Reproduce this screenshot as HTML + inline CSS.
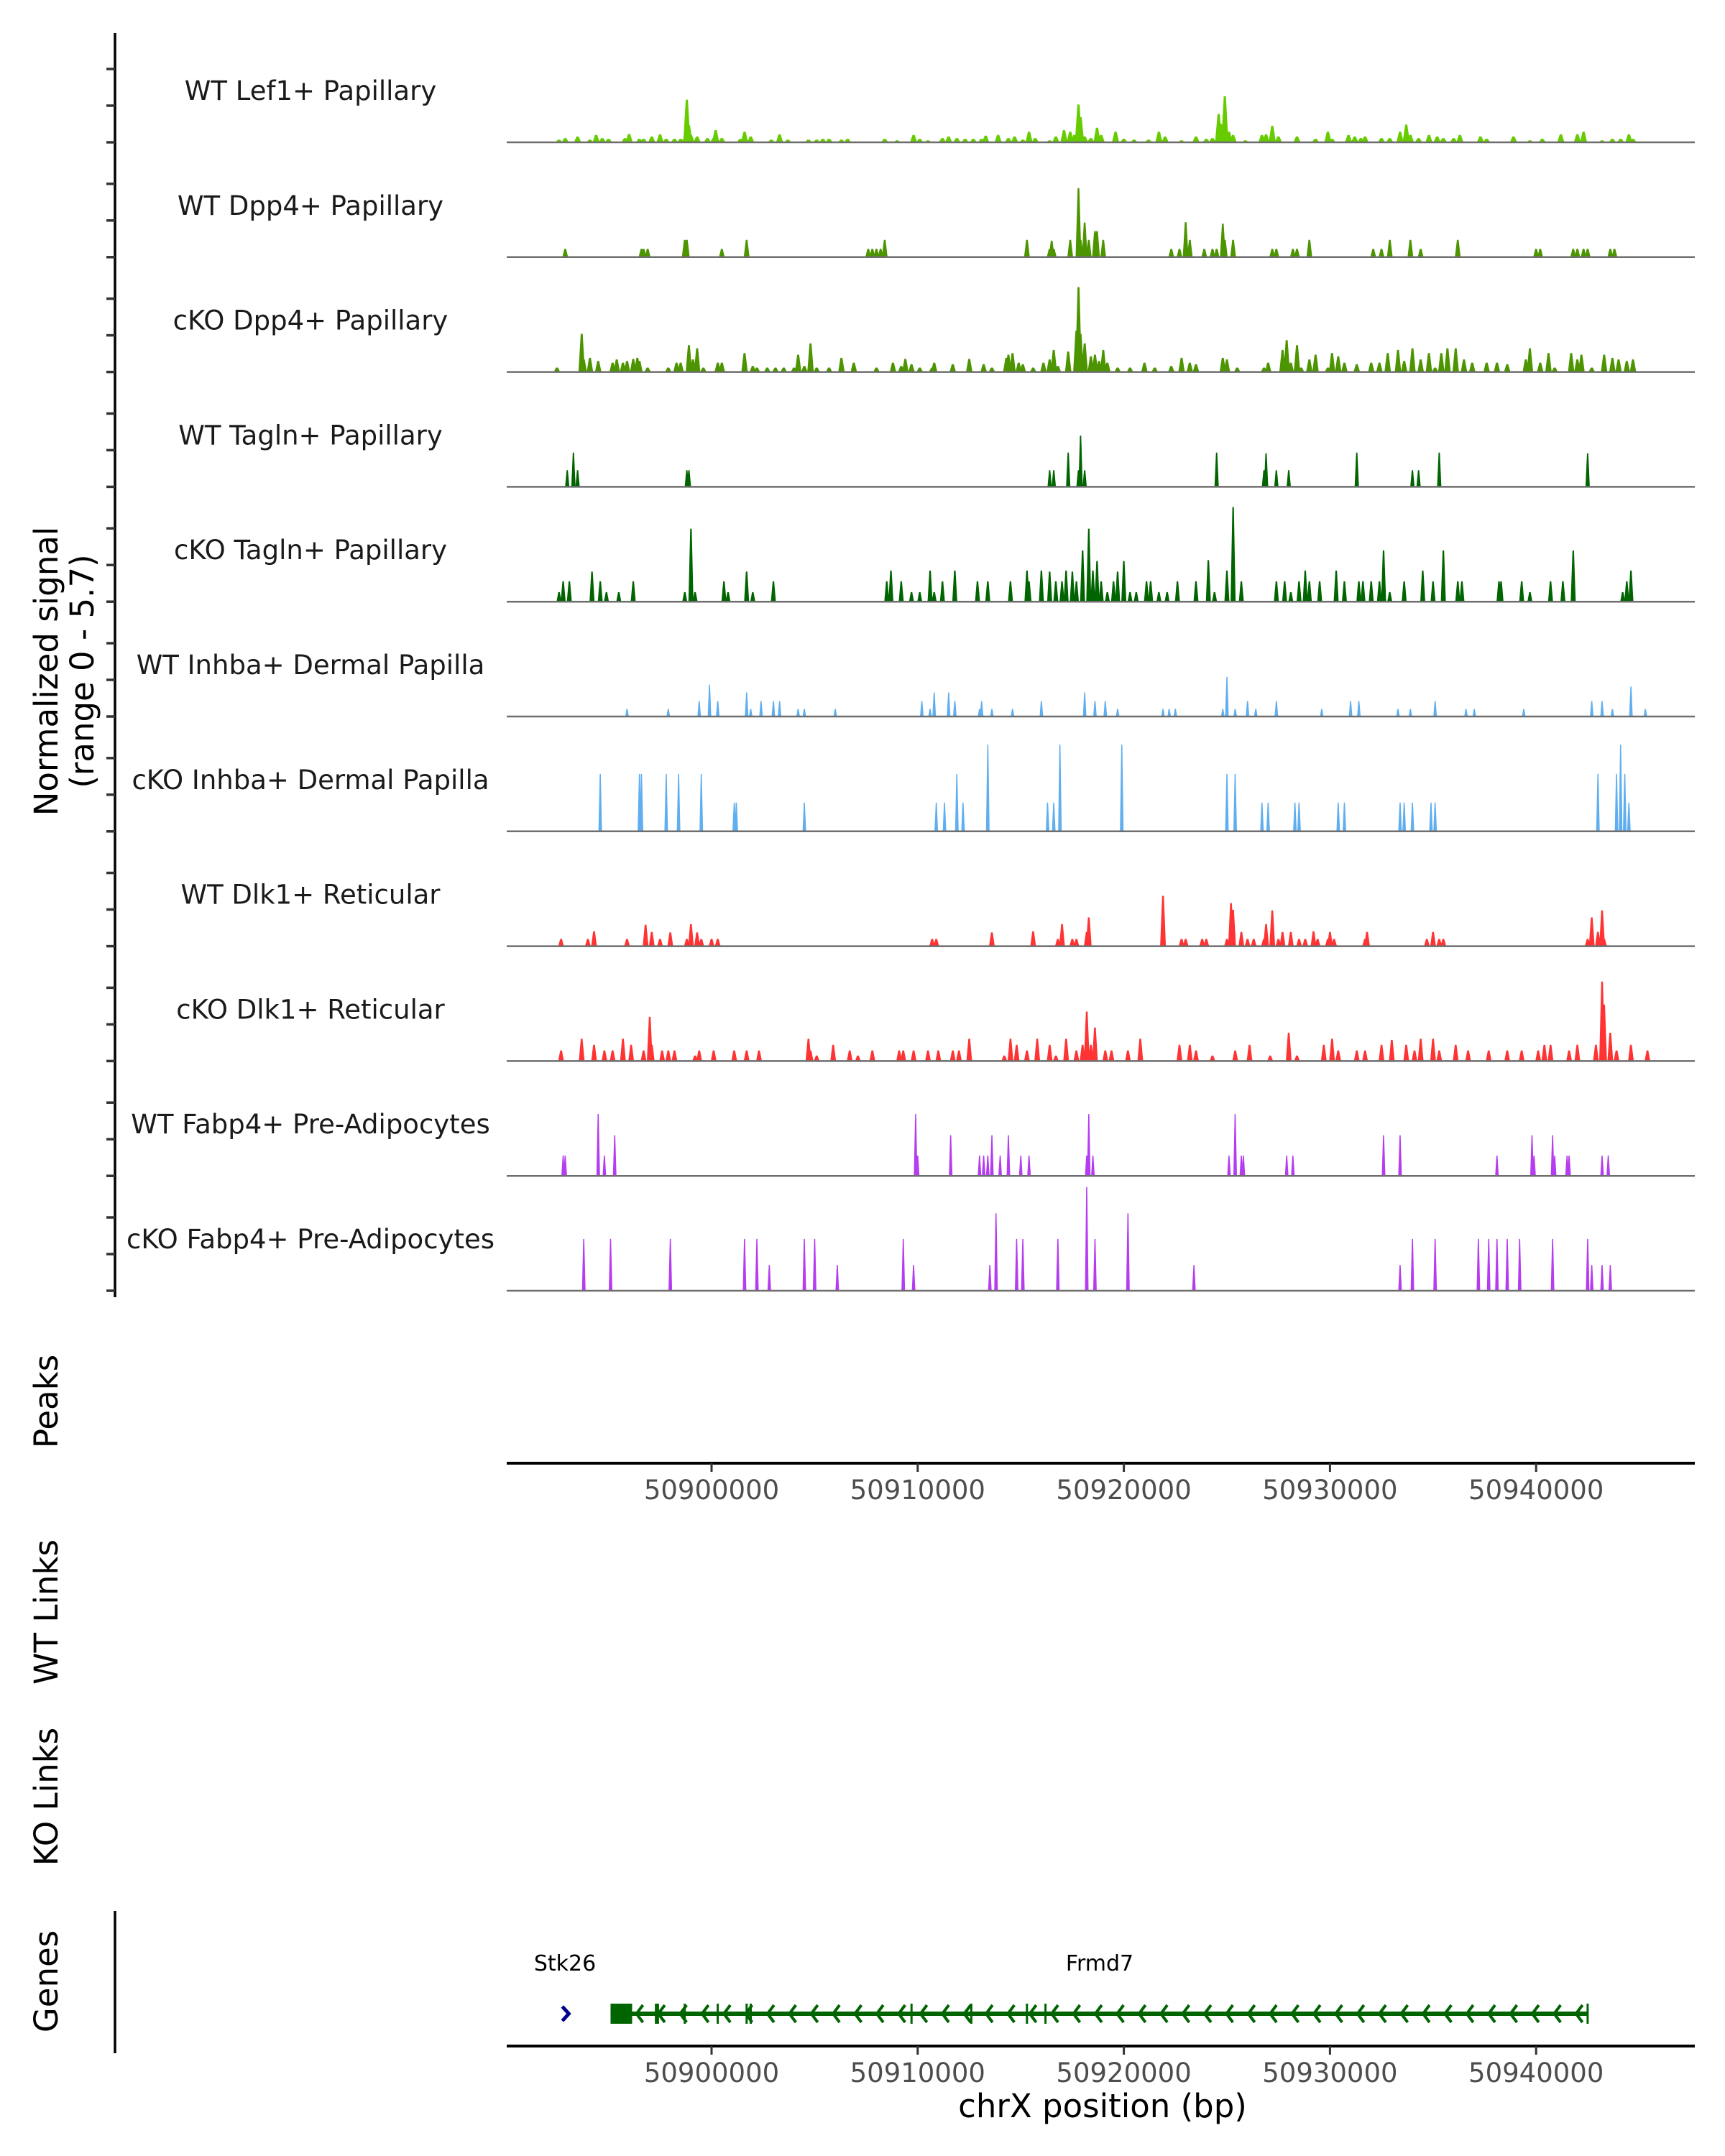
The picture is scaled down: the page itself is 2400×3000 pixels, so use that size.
<!DOCTYPE html>
<html><head><meta charset="utf-8">
<style>
html,body{margin:0;padding:0;background:#fff;}
svg{display:block;font-family:"DejaVu Sans","Liberation Sans",sans-serif;}
</style></head>
<body>
<svg id="chart" width="2400" height="3000" viewBox="0 0 2400 3000" xmlns="http://www.w3.org/2000/svg">
  <g id="tracks"></g>
  <line x1="160" y1="46" x2="160" y2="1805" stroke="#000" stroke-width="3.5"/>
  <g id="yticks"></g>
  <text transform="translate(80,934) rotate(-90)" text-anchor="middle" font-size="45" fill="#000">Normalized signal</text>
  <text transform="translate(130,934) rotate(-90)" text-anchor="middle" font-size="45" fill="#000">(range 0 - 5.7)</text>
  <text transform="translate(80,1950) rotate(-90)" text-anchor="middle" font-size="45" fill="#000">Peaks</text>
  <text transform="translate(80,2243) rotate(-90)" text-anchor="middle" font-size="45" fill="#000">WT Links</text>
  <text transform="translate(80,2500) rotate(-90)" text-anchor="middle" font-size="45" fill="#000">KO Links</text>
  <text transform="translate(80,2757) rotate(-90)" text-anchor="middle" font-size="45" fill="#000">Genes</text>
  <line x1="160" y1="2659" x2="160" y2="2857" stroke="#000" stroke-width="3.5"/>
  <line x1="705" y1="2036" x2="2358" y2="2036" stroke="#000" stroke-width="4"/>
  <line x1="705" y1="2847" x2="2358" y2="2847" stroke="#000" stroke-width="4"/>
  <g id="xticks"></g>
  <g id="genes"></g>
  <text x="1534" y="2946" text-anchor="middle" font-size="45" fill="#000">chrX position (bp)</text>
</svg>
<script>
// ---- data (positions in kb relative to 50,900,000; values in normalized signal) ----
const trackNames = ["WT Lef1+ Papillary","WT Dpp4+ Papillary","cKO Dpp4+ Papillary","WT Tagln+ Papillary","cKO Tagln+ Papillary","WT Inhba+ Dermal Papilla","cKO Inhba+ Dermal Papilla","WT Dlk1+ Reticular","cKO Dlk1+ Reticular","WT Fabp4+ Pre-Adipocytes","cKO Fabp4+ Pre-Adipocytes"];
const trackColors = ["#66cc00","#4c9400","#4c9400","#006400","#006400","#5eaef0","#5eaef0","#ff3333","#ff3333","#b53cf0","#b53cf0"];
const xTicks = [50900000,50910000,50920000,50930000,50940000];
const lef1Pos = [-7.4,-7.1,-6.5,-5.9,-5.6,-5.3,-5.0,-4.2,-4.0,-3.5,-3.3,-2.9,-2.5,-2.2,-1.8,-1.5,-1.3,-1.2,-1.1,-1.0,-0.7,-0.2,0.1,0.2,0.5,1.4,1.6,1.9,2.9,3.3,3.7,4.7,5.1,5.4,5.7,6.3,6.6,8.4,9.0,9.8,10.1,10.5,11.2,11.5,11.9,12.3,12.7,13.1,13.3,13.9,14.4,14.7,15.1,15.4,15.7,16.4,16.7,17.1,17.4,17.6,17.8,17.9,18.1,18.4,18.7,18.9,19.6,20.0,20.5,21.2,21.7,22.0,22.8,23.5,24.0,24.3,24.6,24.7,24.9,25.1,25.3,25.9,26.7,26.9,27.2,27.5,28.4,29.3,29.9,30.1,30.9,31.2,31.5,31.7,32.5,32.9,33.4,33.7,33.9,34.3,34.8,35.2,35.5,36.0,36.3,37.3,37.6,38.9,39.7,40.3,41.2,42.0,42.3,43.2,43.7,44.1,44.5,44.7];
const lef1Val = [0.15,0.24,0.33,0.15,0.42,0.24,0.2,0.24,0.47,0.2,0.2,0.33,0.45,0.2,0.2,0.2,0.24,2.41,0.96,0.42,0.33,0.24,0.24,0.69,0.24,0.2,0.6,0.33,0.15,0.45,0.15,0.15,0.15,0.2,0.2,0.15,0.2,0.2,0.11,0.42,0.2,0.11,0.24,0.33,0.24,0.2,0.2,0.2,0.38,0.42,0.24,0.33,0.15,0.6,0.24,0.11,0.33,0.69,0.6,0.42,2.14,1.42,0.33,0.24,0.82,0.42,0.6,0.2,0.15,0.15,0.6,0.33,0.11,0.33,0.2,0.24,1.6,1.05,2.6,0.6,0.42,0.11,0.42,0.45,0.93,0.33,0.33,0.2,0.6,0.2,0.42,0.33,0.24,0.33,0.24,0.24,0.6,1.0,0.42,0.24,0.42,0.33,0.24,0.24,0.42,0.33,0.2,0.33,0.11,0.2,0.45,0.45,0.6,0.11,0.2,0.2,0.45,0.2];
const dpp4WtPos = [-7.1,-3.4,-3.3,-3.1,-1.3,-1.2,0.5,1.7,7.6,7.8,8.0,8.2,8.4,15.3,16.4,16.5,16.6,17.4,17.8,17.9,18.1,18.3,18.6,18.7,19.0,22.3,22.7,23.0,23.2,23.9,24.3,24.5,24.8,24.9,25.3,27.2,27.4,28.2,28.4,29.0,32.1,32.5,32.9,33.9,34.4,36.2,40.0,40.2,41.8,42.0,42.3,42.5,43.6,43.8];
const dpp4WtVal = [0.47,0.47,0.47,0.47,0.98,0.98,0.47,0.98,0.47,0.47,0.47,0.47,0.98,0.98,0.47,0.93,0.47,0.98,3.9,0.98,1.96,0.98,1.47,1.47,0.98,0.47,0.47,1.98,0.98,0.47,0.47,0.47,1.89,0.98,0.98,0.47,0.47,0.47,0.47,0.98,0.47,0.47,0.98,0.98,0.47,0.98,0.47,0.47,0.47,0.47,0.47,0.47,0.47,0.47];
const dpp4KoPos = [-7.5,-6.3,-6.2,-5.9,-5.5,-4.8,-4.6,-4.3,-4.1,-3.8,-3.6,-3.5,-3.1,-2.1,-1.7,-1.5,-1.1,-0.9,-0.7,-0.4,0.3,0.5,1.6,2.0,2.2,2.7,3.1,3.5,4.0,4.2,4.5,4.8,5.1,5.7,6.3,6.9,8.0,8.8,9.2,9.4,9.7,10.1,10.7,10.8,11.7,12.5,13.2,13.6,14.3,14.4,14.6,14.9,15.1,15.6,16.1,16.4,16.6,16.8,17.3,17.7,17.8,17.9,18.1,18.4,18.6,18.8,19.0,19.2,19.7,20.3,21.0,21.5,22.3,22.8,23.2,23.5,24.8,25.0,25.5,26.8,27.0,27.7,27.9,28.1,28.4,28.6,29.0,29.3,29.9,30.1,30.4,30.7,31.3,32.0,32.4,32.8,33.3,33.6,34.0,34.4,34.8,35.1,35.4,35.7,36.1,36.5,36.9,37.6,38.1,38.6,39.5,39.7,40.2,40.6,40.9,41.7,42.0,42.2,42.7,43.3,43.7,44.0,44.4,44.7];
const dpp4KoVal = [0.25,2.16,0.71,0.8,0.62,0.53,0.71,0.53,0.62,0.74,0.8,0.62,0.25,0.25,0.53,0.53,1.52,0.71,1.34,0.25,0.53,0.53,1.07,0.34,0.25,0.25,0.25,0.25,0.25,0.98,0.34,1.62,0.25,0.25,0.8,0.53,0.25,0.53,0.34,0.74,0.44,0.25,0.25,0.53,0.44,0.74,0.44,0.25,0.8,0.98,1.07,0.53,0.44,0.25,0.53,0.71,1.25,0.34,1.16,2.34,4.8,2.16,1.62,0.89,0.98,0.62,1.25,0.53,0.25,0.25,0.53,0.25,0.34,0.8,0.53,0.44,0.8,0.71,0.25,0.25,0.53,1.25,1.8,0.53,1.52,0.25,0.71,0.98,0.25,1.07,0.89,0.53,0.44,0.53,0.53,1.07,1.25,0.62,1.34,0.71,1.07,0.25,1.07,1.34,1.34,0.71,0.53,0.53,0.53,0.44,0.71,1.34,0.53,1.07,0.25,1.07,0.71,0.98,0.25,0.98,0.8,0.71,0.62,0.71];
const taglnWtPos = [-7.0,-6.7,-6.5,-1.2,-1.1,16.4,16.6,17.3,17.8,17.9,18.1,24.5,26.8,26.9,27.4,28.0,31.3,34.0,34.3,35.3,42.5];
const taglnWtVal = [0.94,1.94,0.94,0.94,0.94,0.94,0.94,1.94,0.94,2.9,0.94,1.94,0.94,1.9,0.94,0.94,1.94,0.94,0.94,1.94,1.9];
const taglnKoPos = [-7.4,-7.2,-6.9,-5.8,-5.4,-5.1,-4.5,-3.8,-1.3,-1.0,-0.8,0.6,0.8,1.7,2.0,3.0,8.5,8.7,9.2,9.7,10.1,10.6,10.8,11.2,11.8,12.9,13.4,14.5,15.3,15.4,16.0,16.4,16.7,17.0,17.2,17.5,17.7,18.0,18.3,18.5,18.7,18.9,19.2,19.5,19.7,20.0,20.3,20.6,21.1,21.3,21.7,22.1,22.6,23.5,24.1,24.4,25.0,25.3,25.7,27.4,27.8,28.1,28.5,28.8,29.0,29.5,30.3,30.7,31.4,31.6,32.0,32.4,32.6,32.9,33.6,34.5,35.0,35.5,36.2,36.4,38.2,38.3,39.3,39.7,40.7,41.3,41.8,44.2,44.4,44.6];
const taglnKoVal = [0.54,1.15,1.15,1.7,1.15,0.54,0.54,1.15,0.54,4.13,0.54,1.15,0.54,1.7,0.54,1.15,1.15,1.76,1.15,0.54,0.54,1.76,0.54,1.15,1.76,1.15,1.15,1.15,1.76,1.15,1.76,1.7,1.15,1.15,1.76,1.7,1.15,2.9,4.13,1.76,2.3,1.15,0.54,1.15,1.7,2.3,0.54,0.54,1.15,1.15,0.54,0.54,1.15,1.15,2.35,0.54,1.76,5.35,1.15,1.15,1.15,0.54,1.15,1.76,1.15,1.15,1.76,1.15,1.15,1.15,1.15,1.15,2.9,0.54,1.15,1.76,1.15,2.9,1.15,1.15,1.15,1.15,1.15,0.54,1.15,1.15,2.9,0.54,1.15,1.76];
const inhbaWtPos = [-4.1,-2.1,-0.6,-0.1,0.3,1.7,1.9,2.4,3.0,3.3,4.2,4.5,6.0,10.2,10.6,10.8,11.5,11.8,13.0,13.1,13.6,14.6,16.0,18.1,18.6,19.1,19.7,21.9,22.2,22.5,24.8,25.0,25.4,26.0,26.4,27.4,29.6,31.0,31.4,33.3,33.9,35.1,36.6,37.0,39.4,42.7,43.2,43.7,44.6,45.3];
const inhbaWtVal = [0.43,0.43,0.88,1.8,0.88,1.36,0.43,0.88,0.88,0.88,0.43,0.43,0.43,0.88,0.43,1.36,1.36,0.88,0.43,0.88,0.43,0.43,0.88,1.36,0.88,0.88,0.43,0.43,0.43,0.43,0.43,2.24,0.43,0.88,0.43,0.88,0.43,0.88,0.88,0.43,0.43,0.88,0.43,0.43,0.43,0.88,0.88,0.43,1.7,0.43];
const inhbaKoPos = [-5.4,-3.5,-3.4,-2.2,-1.6,-0.5,1.1,1.2,4.5,10.9,11.3,11.9,12.2,13.4,16.3,16.6,16.9,19.9,25.0,25.4,26.7,27.0,28.3,28.5,30.4,30.7,33.4,33.6,34.0,34.9,35.1,43.0,43.9,44.1,44.3,44.5];
const inhbaKoVal = [3.25,3.25,3.25,3.25,3.25,3.25,1.63,1.63,1.63,1.63,1.63,3.25,1.63,4.9,1.63,1.63,4.9,4.9,3.25,3.25,1.63,1.63,1.63,1.63,1.63,1.63,1.63,1.63,1.63,1.63,1.63,3.25,3.25,4.9,3.25,1.63];
const dlk1WtPos = [-7.3,-6.0,-5.7,-4.1,-3.2,-2.9,-2.5,-2.0,-1.2,-1.0,-0.7,-0.5,0.0,0.3,10.7,10.9,13.6,15.6,16.8,17.0,17.5,17.7,18.2,18.3,21.9,22.8,23.0,23.8,24.0,25.0,25.2,25.3,25.7,26.0,26.3,26.8,26.9,27.2,27.5,27.7,28.1,28.5,28.8,29.2,29.4,29.9,30.0,30.2,31.7,31.8,34.7,35.0,35.3,35.5,42.5,42.7,43.0,43.2,43.3];
const dlk1WtVal = [0.41,0.41,0.84,0.41,1.22,0.81,0.41,0.78,0.41,1.25,0.78,0.41,0.41,0.41,0.41,0.41,0.78,0.84,0.41,1.25,0.41,0.41,0.81,1.63,2.85,0.41,0.41,0.41,0.41,0.41,2.44,2.06,0.81,0.41,0.41,0.41,1.25,2.03,0.41,0.81,0.81,0.41,0.41,0.84,0.41,0.41,0.81,0.41,0.41,0.81,0.41,0.81,0.41,0.41,0.41,1.63,0.81,2.03,0.41];
const dlk1KoPos = [-7.3,-6.3,-5.7,-5.2,-4.8,-4.3,-3.9,-3.3,-3.0,-2.9,-2.4,-2.1,-1.8,-0.8,-0.6,0.1,1.1,1.7,2.3,4.7,4.8,5.1,5.9,6.7,7.1,7.8,9.1,9.3,9.8,10.5,11.0,11.7,12.0,12.5,14.2,14.5,14.8,15.3,15.8,16.4,16.7,17.2,17.7,18.0,18.2,18.4,18.6,19.1,19.4,20.2,20.8,22.7,23.2,23.5,24.3,25.4,26.1,27.1,28.0,28.4,29.7,30.1,30.4,31.3,31.7,32.5,33.0,33.7,34.1,34.4,35.0,35.3,36.1,36.7,37.7,38.6,39.3,40.1,40.4,40.7,41.6,42.0,42.9,43.2,43.3,43.6,43.9,44.6,45.4];
const dlk1KoVal = [0.6,1.26,0.92,0.6,0.6,1.26,0.92,0.6,2.5,0.92,0.6,0.6,0.6,0.31,0.6,0.6,0.6,0.6,0.6,1.26,0.6,0.31,0.92,0.6,0.31,0.6,0.6,0.6,0.6,0.6,0.6,0.6,0.6,1.26,0.31,1.26,0.92,0.6,1.26,0.92,0.31,1.26,0.6,0.92,2.8,0.92,1.9,0.6,0.6,0.6,1.26,0.92,0.92,0.6,0.31,0.6,0.92,0.31,1.6,0.31,0.92,1.26,0.6,0.6,0.6,0.92,1.2,0.92,0.6,1.26,1.26,0.6,0.92,0.6,0.6,0.6,0.6,0.6,0.92,0.92,0.6,0.92,0.92,4.5,3.2,1.6,0.6,0.92,0.6];
const fabp4WtPos = [-7.2,-7.1,-5.5,-5.2,-4.7,9.9,10.0,11.6,13.0,13.2,13.4,13.6,14.0,14.4,15.0,15.4,18.2,18.3,18.5,25.1,25.4,25.7,25.8,27.9,28.2,32.6,33.4,38.1,39.8,39.9,40.8,40.9,41.5,41.6,43.2,43.5];
const fabp4WtVal = [1.15,1.15,3.5,1.15,2.3,3.5,1.15,2.3,1.15,1.15,1.15,2.3,1.15,2.3,1.15,1.15,1.15,3.5,1.15,1.15,3.5,1.15,1.15,1.15,1.15,2.3,2.3,1.15,2.3,1.15,2.3,1.15,1.15,1.15,1.15,1.15];
const fabp4KoPos = [-6.2,-4.9,-2.0,1.6,2.2,2.8,4.5,5.0,6.1,9.3,9.8,13.5,13.8,14.8,15.1,16.8,18.2,18.6,20.2,23.4,33.4,34.0,35.1,37.2,37.7,38.1,38.6,39.2,40.8,42.5,42.7,43.2,43.6];
const fabp4KoVal = [2.93,2.93,2.93,2.93,2.93,1.46,2.93,2.93,1.46,2.93,1.46,1.46,4.38,2.93,2.93,2.93,5.87,2.93,4.38,1.46,1.46,2.93,2.93,2.93,2.93,2.93,2.93,2.93,2.93,2.93,1.46,1.46,1.46];
const geneStarts = [-7.1, -4.9];
const geneEnds = [-6.9, 42.5];
const geneNames = ["Stk26","Frmd7"];
const frmd7Exons = [-2.7,-2.6,-1.3,0.3,1.7,1.9,9.7,12.6,15.3,16.2,42.5];

const trackPos = [lef1Pos,dpp4WtPos,dpp4KoPos,taglnWtPos,taglnKoPos,inhbaWtPos,inhbaKoPos,dlk1WtPos,dlk1KoPos,fabp4WtPos,fabp4KoPos];
const trackVal = [lef1Val,dpp4WtVal,dpp4KoVal,taglnWtVal,taglnKoVal,inhbaWtVal,inhbaKoVal,dlk1WtVal,dlk1KoVal,fabp4WtVal,fabp4KoVal];

// ---- scales ----
const NS = "http://www.w3.org/2000/svg";
const X0 = 705, X1 = 2358;
function xScale(kb){ return 990 + kb*28.68; }
function xBp(bp){ return xScale((bp-50900000)/1000); }
function baseY(i){ return 198 + i*159.8; }
const PX_PER_UNIT = 24.6;
function yScale(i, v){ return baseY(i) - v*PX_PER_UNIT; }
function mk(tag, attrs, parent){ const e=document.createElementNS(NS,tag); for(const k in attrs) e.setAttribute(k,attrs[k]); parent.appendChild(e); return e; }

const tracksG = document.getElementById('tracks');
const ytG = document.getElementById('yticks');
const halfW = [5,4,4.5,3,3.5,2.5,2.5,4,4,2.5,2.5];
for(let i=0;i<trackNames.length;i++){
  const g = mk('g',{},tracksG);
  
  
  const lab = mk('text',{x:432,y:baseY(i)-59,'text-anchor':'middle','font-size':37,fill:'#1a1a1a'},g);
  lab.textContent = trackNames[i];
  
  
  let d='';
  const b = baseY(i), w = halfW[i];
  for(let j=0;j<trackPos[i].length;j++){
    const x = xScale(trackPos[i][j]), y = yScale(i, trackVal[i][j]);
    d += `M${(x-w).toFixed(1)},${b}L${(x-w*0.3).toFixed(1)},${y.toFixed(1)}L${(x+w*0.3).toFixed(1)},${y.toFixed(1)}L${(x+w).toFixed(1)},${b}Z`;
  }
  const p = mk('path',{d:d,fill:trackColors[i]},g);
  
  
  const bl = mk('line',{x1:X0,x2:X1,y1:b,y2:b,stroke:'#6e6e6e','stroke-width':2.5},g);
  
  
  for(const off of [0,51,102]){
    const t = mk('line',{x1:148,x2:160,y1:b-off,y2:b-off,stroke:'#333','stroke-width':3.5},ytG);
    
    
  }
}

// ---- x ticks ----
const xtG = document.getElementById('xticks');
for(const axisY of [2036, 2847]){
  for(const t of xTicks){
    const x = xBp(t);
    const tk = mk('line',{x1:x,x2:x,y1:axisY,y2:axisY+12,stroke:'#333','stroke-width':3},xtG);
    
    
    const tl = mk('text',{x:x,y:axisY+50,'text-anchor':'middle','font-size':37,fill:'#4d4d4d'},xtG);
    tl.textContent = String(t);
    
    
  }
}

// ---- genes ----
const gG = document.getElementById('genes');
const GY = 2802;
{
  const x = xScale(geneStarts[0]);
  const a = mk('path',{d:`M${x-4},${GY-10}L${x+5},${GY}L${x-4},${GY+10}`,stroke:'#00008b','stroke-width':5,fill:'none'},gG);
  
  
  const l = mk('text',{x:786,y:2742,'text-anchor':'middle','font-size':30,fill:'#000'},gG);
  l.textContent = geneNames[0];
  
  
}
{
  const xs = xScale(geneStarts[1]), xe = xScale(geneEnds[1]);
  const ln = mk('line',{x1:xs,x2:xe,y1:GY,y2:GY,stroke:'#006400','stroke-width':6},gG);
  
  
  const ex = mk('rect',{x:xs,y:GY-14,width:30,height:28,fill:'#006400'},gG);
  
  
  let d='';
  for(let x=xs+40; x<xe-10; x+=30.4){ d+=`M${(x+5).toFixed(1)},${GY-12}L${(x-4).toFixed(1)},${GY}L${(x+5).toFixed(1)},${GY+12}`; }
  const ar = mk('path',{d:d,stroke:'#006400','stroke-width':4,fill:'none'},gG);
  
  
  let d2='';
  for(const e of frmd7Exons){ const x=xScale(e); d2+=`M${x.toFixed(1)},${GY-14}L${x.toFixed(1)},${GY+14}`; }
  const exl = mk('path',{d:d2,stroke:'#006400','stroke-width':3},gG);
  
  
  const l = mk('text',{x:1530,y:2742,'text-anchor':'middle','font-size':30,fill:'#000'},gG);
  l.textContent = geneNames[1];
  
  
}
</script>
</body></html>
